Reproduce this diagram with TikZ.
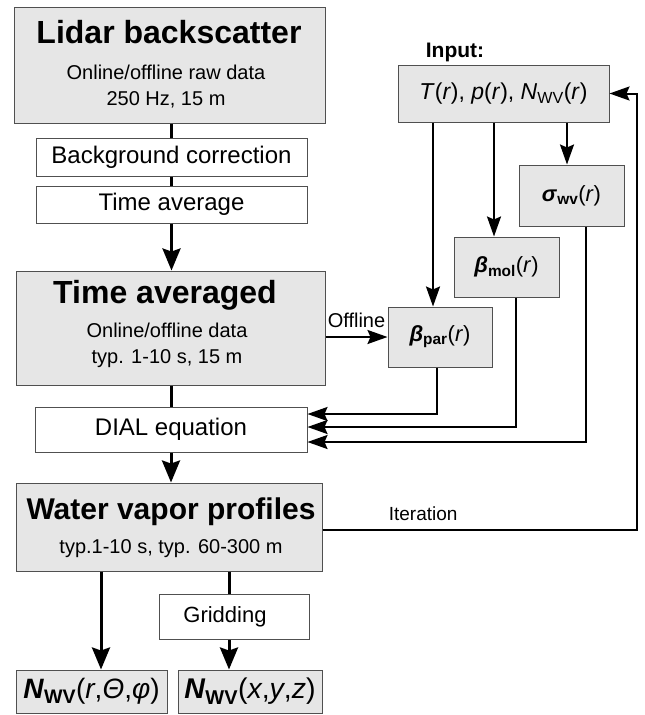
\documentclass[tikz,border=0pt]{standalone}
\usepackage{fontspec}
\setmainfont{Liberation Sans}
\usetikzlibrary{arrows.meta}
\definecolor{boxgray}{RGB}{230,230,230}
\definecolor{edgegray}{RGB}{80,80,80}
\begin{document}
\begin{tikzpicture}[x=1pt,y=-1pt,>={Stealth[length=20pt,width=14pt,inset=3pt]},
    graybox/.style={draw=edgegray,fill=boxgray,line width=1pt,inner sep=0pt},
    whitebox/.style={draw=edgegray,fill=white,line width=1pt,inner sep=0pt},
    bigtitle/.style={anchor=base,inner sep=0pt,font=\fontsize{32}{36}\selectfont\bfseries},
    subtxt/.style={anchor=base,inner sep=0pt,align=center,font=\fontsize{20}{26}\selectfont},
    flow/.style={line width=3pt},
    bigarrow/.style={line width=3pt,-{Stealth[length=22pt,width=18pt,inset=3pt]}},
    feed/.style={line width=2pt}]
\useasboundingbox (0,0) rectangle (645,715);
% main chain
\node[graybox,minimum width=311,minimum height=116](lidar)at(169.5,65){};
\node[bigtitle](lidartitle)at(169,43){Lidar backscatter};
\node[subtxt](lidarsub)at(166,105){Online/offline raw data\\250 Hz, 15 m};
\node[whitebox,minimum width=271,minimum height=38,font=\fontsize{24}{28}\selectfont](bgcorr)at(171.5,157){Background correction};
\node[whitebox,minimum width=271,minimum height=37,font=\fontsize{24}{28}\selectfont](tavg)at(171.5,204.5){Time average};
\node[graybox,minimum width=309,minimum height=114](timeavg)at(170.5,328){};
\node[bigtitle](timeavgtitle)at(165,303){Time averaged};
\node[subtxt](timeavgsub)at(167,363){Online/offline data\\typ. 1-10 s, 15 m};
\node[whitebox,minimum width=272,minimum height=45,font=\fontsize{24}{28}\selectfont](dial)at(171,429.5){DIAL equation};
\node[graybox,minimum width=306,minimum height=88](wvp)at(169,527){};
\node[bigtitle,font=\fontsize{30}{34}\selectfont\bfseries](wvptitle)at(171,519){Water vapor profiles};
\node[subtxt](wvpsub)at(171,553){typ.1-10 s, typ. 60-300 m};
\node[whitebox,minimum width=150,minimum height=45,font=\fontsize{22}{26}\selectfont](grid)at(234,616.5){Gridding\hspace*{18pt}};
\node[graybox,minimum width=151,minimum height=43,font=\fontsize{28}{32}\selectfont](nsph)at(91.5,691.5){\textbf{\textit{N}\textsubscript{WV}}(\textit{r},\textit{Θ},\textit{φ})};
\node[graybox,minimum width=144,minimum height=43,font=\fontsize{28.5}{32}\selectfont](ncart)at(250,691.5){\textbf{\textit{N}\textsubscript{WV}}(\textit{x},\textit{y},\textit{z})};
% input side
\node[font=\fontsize{21}{24}\selectfont\bfseries,anchor=base,inner sep=0pt](inputlbl)at(455,57){Input:};
\node[graybox,minimum width=211,minimum height=57,font=\fontsize{23}{26}\selectfont](input)at(503.5,93.5){\textit{T}(\textit{r}), \textit{p}(\textit{r}), \textit{N}\textsubscript{WV}(\textit{r})};
\node[graybox,minimum width=105,minimum height=61,font=\fontsize{22}{26}\selectfont](sigma)at(571.5,195.5){\textbf{\textit{σ}\textsubscript{wv}}(\textit{r})};
\node[graybox,minimum width=105,minimum height=60,font=\fontsize{22}{26}\selectfont](betamol)at(506.5,267){\textbf{\textit{β}\textsubscript{mol}}(\textit{r})};
\node[graybox,minimum width=104,minimum height=60,font=\fontsize{22}{26}\selectfont](betapar)at(440,337){\textbf{\textit{β}\textsubscript{par}}(\textit{r})};
\coordinate(iterc)at(637,530);
% connectors
\draw[flow](bgcorr.north|-lidar.south)--(bgcorr.north);
\draw[flow](bgcorr)--(tavg);
\draw[bigarrow](tavg.south)--(tavg.south|-timeavg.north);
\draw[flow](dial.north|-timeavg.south)--(dial.north);
\draw[bigarrow](dial.south)--(dial.south|-wvp.north);
\draw[bigarrow]([xshift=9.5]nsph.north|-wvp.south)--([xshift=9.5]nsph.north);
\draw[flow]([xshift=-5]grid.north|-wvp.south)--([xshift=-5]grid.north);
\draw[bigarrow]([xshift=-5]grid.south)--([xshift=-5]grid.south|-ncart.north);
\draw[feed,->]([xshift=-7]betapar.north|-input.south)--([xshift=-7]betapar.north);
\draw[feed,->]([xshift=-12.5]betamol.north|-input.south)--([xshift=-12.5]betamol.north);
\draw[feed,->]([xshift=-4.5]sigma.north|-input.south)--([xshift=-4.5]sigma.north);
\draw[feed,->](timeavg.east|-betapar.west)--node[anchor=base,inner sep=0pt,yshift=10pt,font=\fontsize{20}{24}\selectfont]{Offline}(betapar.west);
\draw[feed,->]([xshift=-3]betapar.south)|-([yshift=15.5]dial.east);
\draw[feed,->]([xshift=9]betamol.south)|-([yshift=2.5]dial.east);
\draw[feed,->]([xshift=14.5]sigma.south)|-([yshift=-12.5]dial.east);
\draw[feed,->](wvp.east|-iterc)--node[pos=0.32,anchor=base,inner sep=0pt,yshift=10pt,font=\fontsize{19}{22}\selectfont]{Iteration}(iterc)|-(input.east);
\end{tikzpicture}
\end{document}
